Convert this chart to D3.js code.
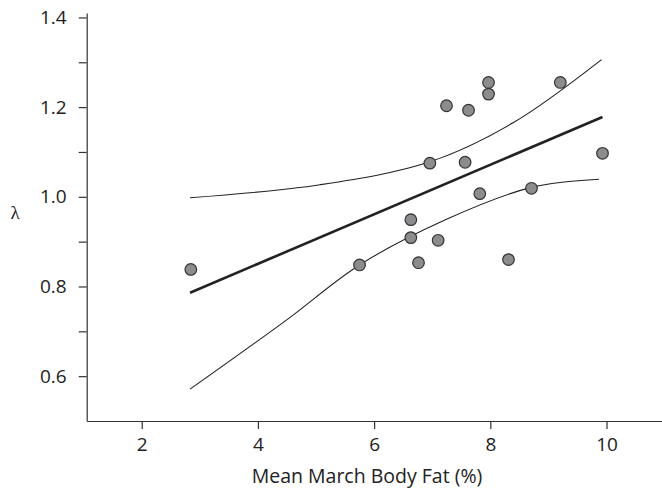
<!DOCTYPE html>
<html>
<head>
<meta charset="utf-8">
<script src="https://cdn.jsdelivr.net/npm/d3@7/dist/d3.min.js"></script>
<style>
  html, body { margin: 0; padding: 0; background: #fff; }
  svg { display: block; }
  .axis text { font-family: "Open Sans", "Noto Sans", sans-serif; font-size: 19px; fill: #222; }
  .axis path, .axis line { stroke: #333; stroke-width: 1.2px; }
</style>
</head>
<body>
<svg id="chart" width="662" height="491"></svg>
<script>
// ---- data ----
const bodyFat = [2.845, 5.749, 6.632, 6.632, 6.764, 6.959, 7.102, 7.246, 7.566, 7.625, 7.819, 7.969, 7.969, 8.313, 8.709, 9.205, 9.931];
const lambda  = [0.838, 0.848, 0.949, 0.909, 0.853, 1.075, 0.903, 1.203, 1.077, 1.193, 1.007, 1.255, 1.229, 0.860, 1.019, 1.255, 1.097];

const fitX = [2.832, 9.931];
const fitY = [0.786, 1.178];

const upperX = [2.832, 5.07, 6.96, 8.39, 9.914];
const upperY = [0.998, 1.027, 1.078, 1.165, 1.306];

const lowerX = [2.832, 4.49, 5.749, 7.246, 8.709, 9.87];
const lowerY = [0.571, 0.725, 0.848, 0.950, 1.021, 1.039];

const xTicks = [2, 4, 6, 8, 10];
const yTicks = [0.6, 0.8, 1.0, 1.2, 1.4];
const yMinorTicks = [0.7, 0.9, 1.1, 1.3];
const xTitle = "Mean March Body Fat (%)";
const yTitle = "λ";

// ---- scales ----
const svg = d3.select("#chart");
const x = d3.scaleLinear().domain([1.053, 11]).range([86.7, 86.7 + (11 - 1.053) * 58.1]);
const y = d3.scaleLinear().domain([0.5, 1.41]).range([421, 421 - 0.91 * 448.4]);

// ---- axes ----
svg.append("g").attr("class", "axis").attr("transform", "translate(0,421)")
  .call(d3.axisBottom(x).tickValues(xTicks).tickFormat(d3.format("d")).tickSize(8).tickSizeOuter(0).tickPadding(9));

svg.append("g").attr("class", "axis").attr("transform", "translate(86.7,0)")
  .call(d3.axisLeft(y).tickValues(yTicks).tickFormat(d3.format(".1f")).tickSize(8).tickSizeOuter(0).tickPadding(12));

svg.append("g").attr("class", "axis").attr("transform", "translate(86.7,0)")
  .call(d3.axisLeft(y).tickValues(yMinorTicks).tickFormat("").tickSize(8).tickSizeOuter(0))
  .select(".domain").remove();

svg.append("text")
  .attr("x", 367).attr("y", 483)
  .attr("text-anchor", "middle")
  .style("font-family", "'Open Sans', 'Noto Sans', sans-serif")
  .style("font-size", "19.5px").style("fill", "#222")
  .text(xTitle);

svg.append("text")
  .attr("x", 15).attr("y", 219)
  .attr("text-anchor", "middle")
  .style("font-family", "'Liberation Serif', 'DejaVu Serif', serif")
  .style("font-size", "19px").style("fill", "#222")
  .text(yTitle);

// ---- lines ----
const curve = d3.line().x(d => x(d[0])).y(d => y(d[1])).curve(d3.curveCatmullRom.alpha(0.5));

svg.append("path")
  .datum(d3.zip(upperX, upperY))
  .attr("d", curve).attr("fill", "none").attr("stroke", "#222").attr("stroke-width", 1.1);

svg.append("path")
  .datum(d3.zip(lowerX, lowerY))
  .attr("d", curve).attr("fill", "none").attr("stroke", "#222").attr("stroke-width", 1.1);

svg.append("path")
  .datum(d3.zip(fitX, fitY))
  .attr("d", d3.line().x(d => x(d[0])).y(d => y(d[1])))
  .attr("fill", "none").attr("stroke", "#222").attr("stroke-width", 2.6);

// ---- points ----
svg.append("g").selectAll("circle")
  .data(d3.zip(bodyFat, lambda))
  .join("circle")
  .attr("cx", d => x(d[0])).attr("cy", d => y(d[1]))
  .attr("r", 5.8)
  .attr("fill", "#8c8c8e").attr("stroke", "#333").attr("stroke-width", 1.2);
</script>
</body>
</html>
